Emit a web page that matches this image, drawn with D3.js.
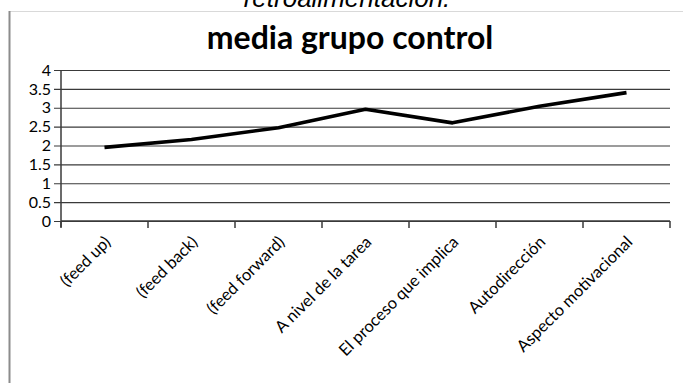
<!DOCTYPE html>
<html>
<head>
<meta charset="utf-8">
<script src="https://cdn.jsdelivr.net/npm/d3@7/dist/d3.min.js"></script>
<style>
  html, body { margin: 0; padding: 0; background: #fff; }
  svg { display: block; }
</style>
</head>
<body>
<script>
// Average scores per feedback dimension (control group)
const categories = ["(feed up)", "(feed back)", "(feed forward)", "A nivel de la tarea",
  "El proceso que implica", "Autodirección", "Aspecto motivacional"];
const mediaControl = [1.95, 2.16, 2.47, 2.96, 2.6, 3.04, 3.4];
const yTicks = [0, 0.5, 1, 1.5, 2, 2.5, 3, 3.5, 4];

const W = 683, H = 383;
const plot = { left: 61, right: 670, top: 70, bottom: 221 };
const labelFont = "Lato, 'Open Sans', sans-serif";

const svg = d3.select("body").append("svg").attr("width", W).attr("height", H);

// Caption text from the surrounding document, running off the top edge
svg.append("text")
  .attr("x", 347).attr("y", 7)
  .attr("text-anchor", "middle")
  .attr("font-family", "Arial, 'Liberation Sans', sans-serif")
  .attr("font-style", "italic")
  .attr("font-size", 26)
  .attr("fill", "#000")
  .text("retroalimentación.");

// Chart frame
svg.append("line").attr("x1", 9).attr("x2", W).attr("y1", 11.5).attr("y2", 11.5)
  .attr("stroke", "#d9d9d9").attr("stroke-width", 1);
svg.append("line").attr("x1", 9.5).attr("x2", 9.5).attr("y1", 11).attr("y2", H)
  .attr("stroke", "#8c8c8c").attr("stroke-width", 2);

// Title
svg.append("text")
  .attr("x", 350).attr("y", 49)
  .attr("text-anchor", "middle")
  .attr("font-family", labelFont)
  .attr("font-weight", "bold")
  .attr("font-size", 32)
  .attr("fill", "#000")
  .text("media grupo control");

const x = d3.scaleBand().domain(categories).range([plot.left, plot.right]);
const y = d3.scaleLinear().domain([0, 4]).range([plot.bottom, plot.top]);

// Horizontal gridlines with outward ticks and labels
const yAxis = svg.append("g")
  .attr("transform", `translate(${plot.left},0)`)
  .call(d3.axisLeft(y).tickValues(yTicks).tickFormat(d3.format("~g"))
    .tickSizeInner(-(plot.right - plot.left)).tickSizeOuter(0));
yAxis.select(".domain").remove();
yAxis.selectAll(".tick line")
  .attr("x1", -7).attr("stroke", "#3a3a3a").attr("stroke-width", 1.2);
yAxis.selectAll(".tick text")
  .attr("x", -10)
  .attr("font-family", labelFont).attr("font-size", 16).attr("fill", "#000");

// Vertical axis line
svg.append("line")
  .attr("x1", plot.left).attr("x2", plot.left)
  .attr("y1", plot.top).attr("y2", plot.bottom + 6)
  .attr("stroke", "#3a3a3a").attr("stroke-width", 1.5);

// Category axis: ticks at band boundaries, rotated labels at band centres
const xAxisG = svg.append("g").attr("transform", `translate(0,${plot.bottom})`);
xAxisG.append("line")
  .attr("x1", plot.left).attr("x2", plot.right)
  .attr("stroke", "#3a3a3a").attr("stroke-width", 1.5);
const bounds = categories.map(c => x(c)).concat([x(categories[categories.length - 1]) + x.bandwidth()]);
xAxisG.selectAll("line.tick")
  .data(bounds).join("line").attr("class", "tick")
  .attr("x1", d => d).attr("x2", d => d).attr("y1", 0).attr("y2", 7)
  .attr("stroke", "#3a3a3a").attr("stroke-width", 1.5);
xAxisG.selectAll("text")
  .data(categories).join("text")
  .attr("transform", d => `translate(${x(d) + x.bandwidth() / 2 + 3},${18}) rotate(-45)`)
  .attr("text-anchor", "end")
  .attr("dy", "0.35em")
  .attr("font-family", labelFont).attr("font-size", 16.5).attr("fill", "#000")
  .text(d => d);

// Series line
const line = d3.line()
  .x((d, i) => x(categories[i]) + x.bandwidth() / 2)
  .y(d => y(d));
svg.append("path")
  .datum(mediaControl)
  .attr("d", line)
  .attr("fill", "none")
  .attr("stroke", "#000")
  .attr("stroke-width", 3.6)
  .attr("stroke-linejoin", "round");
</script>
</body>
</html>
